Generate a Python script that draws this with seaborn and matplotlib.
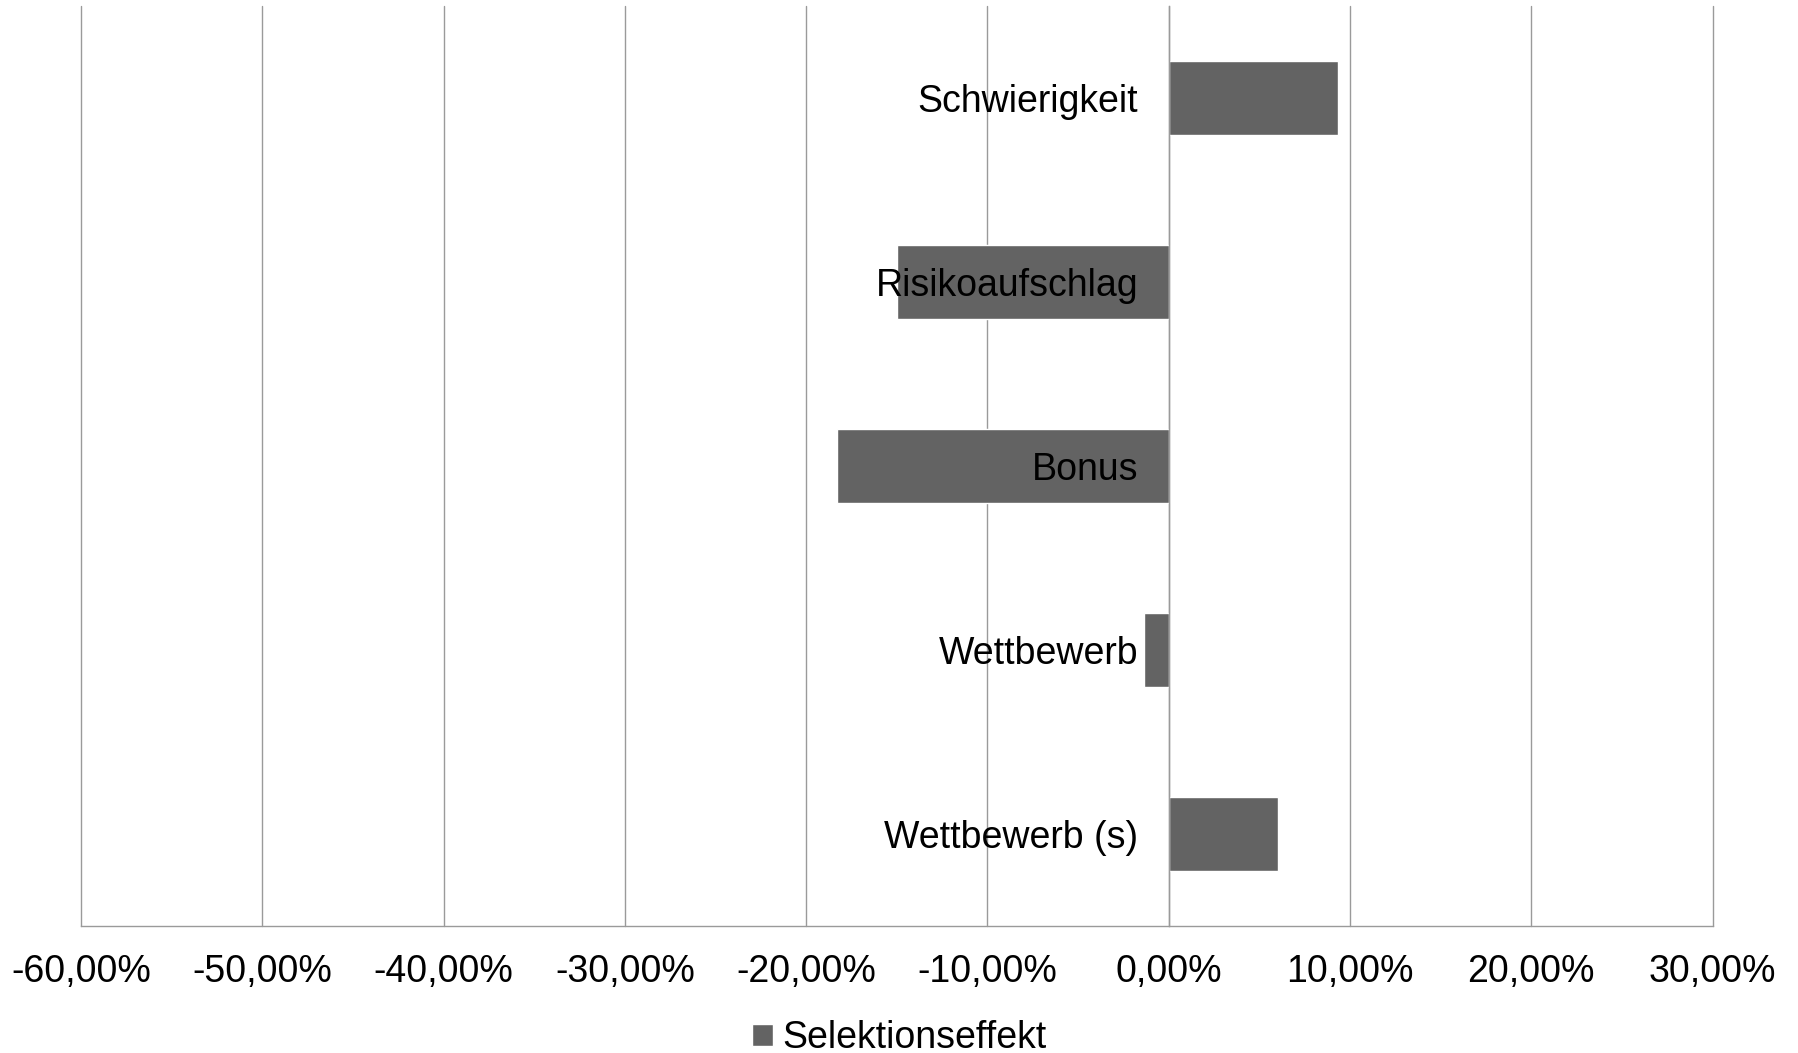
import matplotlib
matplotlib.use('agg')
import matplotlib.pyplot as plt
import seaborn as sns
import pandas as pd
from matplotlib.ticker import FuncFormatter, FixedLocator, MultipleLocator

# daten
kategorien = ['Schwierigkeit', 'Risikoaufschlag', 'Bonus', 'Wettbewerb', 'Wettbewerb (s)']
selektionseffekt = [9.35, -15.0, -18.3, -1.35, 6.0]
serie = 'Selektionseffekt'

df = pd.DataFrame({'kategorie': kategorien, 'wert': selektionseffekt})

sns.set_style('white')
plt.rcParams['font.family'] = ['Liberation Sans', 'DejaVu Sans']
plt.rcParams['axes.unicode_minus'] = False
plt.rcParams['text.color'] = 'black'

grau = '#636363'
linie = '#9a9a9a'
fs = 27

fig = plt.figure(figsize=(17.99, 10.53), dpi=100)
ax = fig.add_axes([0.045, 0.1206, 0.907, 0.8737])

sns.barplot(data=df, x='wert', y='kategorie', order=kategorien, orient='h',
            color=grau, width=0.4, saturation=1, ax=ax, label=serie, zorder=1)

ax.set_xlim(-60, 30)
ax.set_ylim(len(kategorien) - 0.5, -0.5)
ax.xaxis.set_major_locator(MultipleLocator(10))
ax.xaxis.set_major_formatter(FuncFormatter(lambda v, p: f'{v:.2f}%'.replace('.', ',')))

# gitterlinien hinter den balken, beschriftung davor
ax.grid(False)
for xt in ax.get_xticks():
    if -60 <= xt <= 30:
        ax.axvline(xt, color=linie, linewidth=1.0, zorder=0.5, clip_on=False)
ax.set_axisbelow('line')

# y-achse bei 0, striche zwischen den kategorien
for s in ['top', 'right']:
    ax.spines[s].set_visible(False)
ax.spines['left'].set_position(('data', 0))
ax.spines['left'].set_color(linie)
ax.spines['bottom'].set_color(linie)
ax.spines['left'].set_linewidth(1.0)
ax.spines['bottom'].set_linewidth(1.0)

grenzen = [i - 0.5 for i in range(len(kategorien) + 1)]
ax.yaxis.set_minor_locator(FixedLocator(grenzen))
ax.tick_params(axis='y', which='minor', length=7.5, width=1.0, color=linie, direction='out')
ax.tick_params(axis='y', which='major', length=0, pad=22, labelsize=fs, labelcolor='black')
ax.tick_params(axis='x', which='major', length=8, width=1.0, color=linie, direction='out',
               pad=12, labelsize=fs, labelcolor='black')
ax.set_xlabel('')
ax.set_ylabel('')

leg = ax.get_legend()
if leg is not None:
    leg.remove()
handles, labels = ax.get_legend_handles_labels()
fig.legend(handles[:1], labels[:1], loc='center', bbox_to_anchor=(0.5, 0.014),
           frameon=False, fontsize=fs, handlelength=0.55, handleheight=0.55,
           handletextpad=0.25, borderpad=0, labelcolor='black')

fig.savefig('out.png', dpi=100, facecolor='white')
